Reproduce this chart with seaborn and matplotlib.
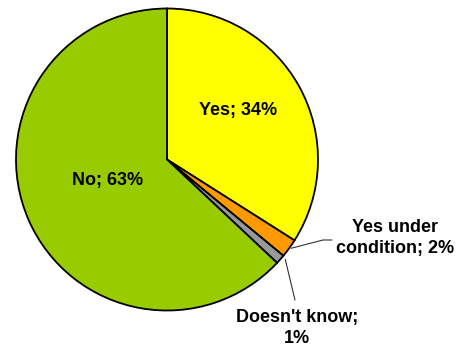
import numpy as np
import matplotlib
matplotlib.use("Agg")
import matplotlib.pyplot as plt
import seaborn as sns

# Survey answers
categories = ["Yes", "Yes under condition", "Doesn't know", "No"]
shares = [34, 2, 1, 63]
label_texts = ["Yes; 34%", "Yes under\ncondition; 2%", "Doesn't know;\n1%", "No; 63%"]
slice_colors = ["#FFFF00", "#FF9900", "#999999", "#99CC00"]

sns.set_theme(style="white")
plt.rcParams["font.family"] = ["Liberation Sans", "DejaVu Sans"]

W, H = 464, 347
fig = plt.figure(figsize=(W / 100, H / 100), dpi=100)
ax = fig.add_axes([0, 0, 1, 1])

cx, cy, r = 167, H - 159.5, 151
wedges, _ = ax.pie(
    shares,
    colors=slice_colors,
    startangle=90,
    counterclock=False,
    center=(cx, cy),
    radius=r,
    frame=True,
    wedgeprops=dict(edgecolor="black", linewidth=1.3),
)

ax.set_xlim(0, W)
ax.set_ylim(0, H)
ax.set_aspect("equal")
ax.axis("off")

txt = dict(fontsize=13, fontweight="bold", color="black", ha="center", va="center",
           linespacing=1.3)

# Labels inside the large slices
ax.text(238.5, H - 110, label_texts[0], **txt)
ax.text(108, H - 181, label_texts[3], **txt)


def edge_point(w, frac=0.5):
    ang = np.deg2rad(w.theta1 + (w.theta2 - w.theta1) * frac)
    return cx + r * np.cos(ang), cy + r * np.sin(ang)


# Small slices: labels outside with leader lines
x0, y0 = edge_point(wedges[1])
ax.plot([x0 + 2, 323, 332], [y0, H - 240, H - 240], color="#333333", lw=0.8)
ax.text(395, H - 238, label_texts[1], **txt)

x1, y1 = edge_point(wedges[2])
ax.plot([x1 + 5, 295], [y1, H - 300], color="#333333", lw=0.8)
ax.text(297, H - 328, label_texts[2], **txt)

fig.savefig("out.png", dpi=100)
